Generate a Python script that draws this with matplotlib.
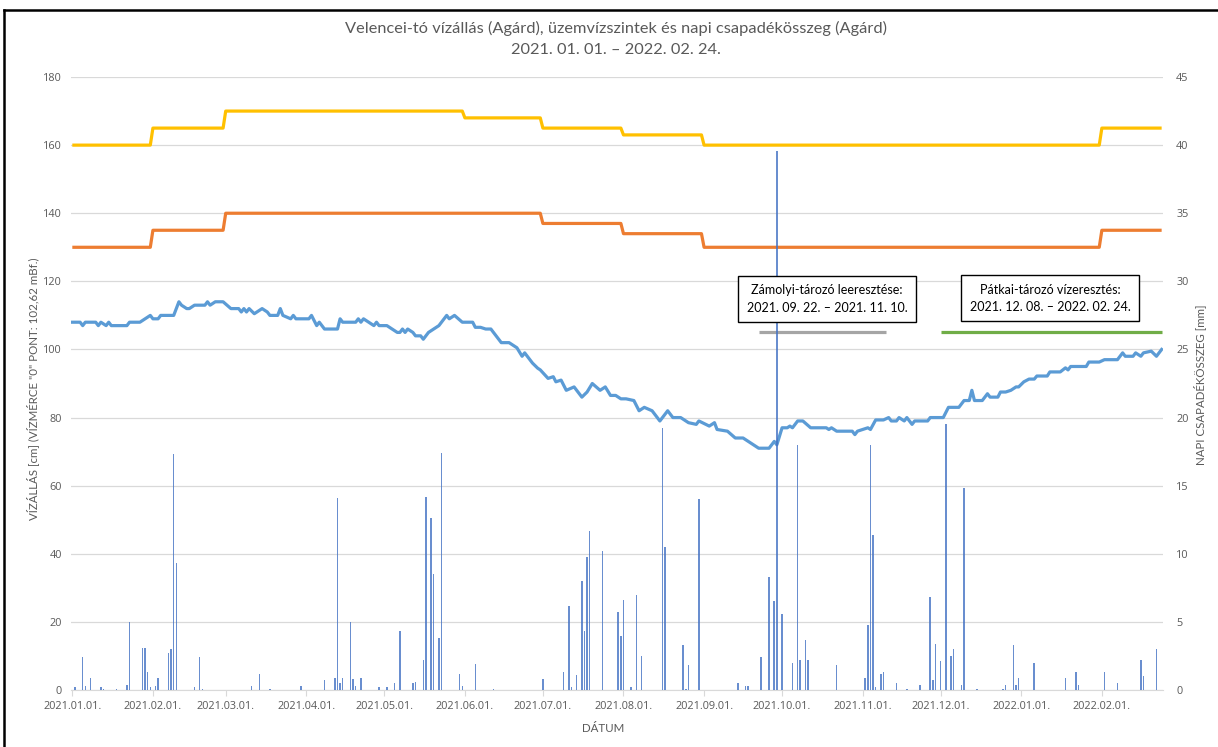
import numpy as np
import pandas as pd
import matplotlib
matplotlib.use("Agg")
import matplotlib.pyplot as plt
import matplotlib.dates as mdates
from matplotlib.lines import Line2D

plt.rcParams['font.family'] = ['Lato', 'DejaVu Sans']

kezdet = pd.Timestamp('2021-01-01')

# vízállás (Agárd), cm -- nap sorszáma 2021.01.01-től
vizallas_nap = [0, 3, 4, 5, 9, 10, 11, 13, 14, 15, 21, 22, 26, 28, 30, 31, 33, 34, 39, 41,
                42, 44, 45, 47, 51, 52, 53, 55, 58, 61, 64, 65, 66, 67, 68, 70, 71, 73, 75, 76,
                79, 80, 81, 84, 85, 86, 91, 92, 94, 95, 97, 102, 103, 104, 109, 110, 111, 112, 114, 116,
                117, 118, 121, 123, 125, 126, 127, 128, 129, 131, 132, 134, 135, 137, 139, 141,
                144, 145, 147, 150, 154, 155, 157, 159, 161, 162, 165, 168, 171, 173, 174, 177, 179, 180,
                183, 185, 186, 188, 190, 193, 196, 198, 200, 203, 205, 207, 209, 211, 213, 216, 218, 220,
                223, 226, 229, 231, 234, 237, 240, 241, 245, 247, 248, 252, 255, 258, 261, 264, 268, 270,
                271, 273, 275, 276, 277, 279,
                281, 284, 290, 291, 292, 294, 300, 301, 302, 304, 306, 307, 309, 312, 314, 315, 317, 318,
                320, 321, 323, 324, 329, 330, 335, 337, 341, 343, 345, 346, 347, 350, 352, 353, 356, 357,
                359, 361, 363, 364, 366, 368, 370, 371, 375, 376, 380, 382, 383, 384, 390, 391, 395, 397,
                402, 404, 405, 408, 409, 411, 412, 415, 417, 418, 419]
vizallas_cm = [108, 108, 107, 108, 108, 107, 108, 107, 108, 107, 107, 108, 108, 109, 110, 109, 109, 110, 110, 114,
               113, 112, 112, 113, 113, 114, 113, 114, 114, 112, 112, 111, 112, 111, 112, 110.5, 111, 112, 111, 110,
               110, 112, 110, 109, 110, 109, 109, 110, 107, 108, 106, 106, 109, 108, 108, 109, 108, 109, 108, 107,
               108, 107, 107, 106, 105, 105, 106, 105, 106, 105, 104, 104, 103, 105, 106, 107,
               110, 109, 110, 108, 108, 106.5, 106.5, 106, 106, 105, 102, 102, 100.5, 98, 99, 96, 94.5, 94,
               91.5, 92, 90.5, 91, 88, 89, 86, 87.5, 90, 88, 89, 86.5, 86.5, 85.5, 85.5, 85, 82, 83,
               82, 79, 82, 80, 80, 78.5, 78, 79, 77.5, 78.5, 76.5, 76, 74, 74, 72.5, 71, 71, 73,
               72, 77, 77, 77.5, 77, 79,
               79, 77, 77, 76.5, 77, 76, 76, 75, 76, 76.5, 77, 76.5, 79.3, 79.3, 80, 79, 79, 80,
               79, 80, 78, 79, 79, 80, 80, 83, 83, 85, 85, 88, 85, 85, 87, 86, 86, 87.5,
               87.5, 88, 89, 89, 90.5, 91.3, 91.3, 92.2, 92.2, 93.4, 93.4, 94.6, 94, 95, 95, 96.3, 96.3, 97,
               97, 99, 98, 98, 99, 98, 99, 99.5, 98, 99, 100]

# üzemvízszintek (lépcsős)
felso_datum = ['2021-01-01', '2021-01-31', '2021-02-01', '2021-02-28', '2021-03-01', '2021-05-31',
               '2021-06-01', '2021-06-30', '2021-07-01', '2021-07-31', '2021-08-01', '2021-08-31',
               '2021-09-01', '2022-01-31', '2022-02-01', '2022-02-24']
felso_cm = [160, 160, 165, 165, 170, 170, 168, 168, 165, 165, 163, 163, 160, 160, 165, 165]

also_datum = ['2021-01-01', '2021-01-31', '2021-02-01', '2021-02-28', '2021-03-01', '2021-06-30',
              '2021-07-01', '2021-07-31', '2021-08-01', '2021-08-31', '2021-09-01', '2022-01-31',
              '2022-02-01', '2022-02-24']
also_cm = [130, 130, 135, 135, 140, 140, 137, 137, 134, 134, 130, 130, 135, 135]

# tározó időszakok (szürke / zöld vonal)
zamolyi_datum = ['2021-09-22', '2021-11-10']
zamolyi_cm = [105, 105]
patkai_datum = ['2021-12-01', '2022-02-24']
patkai_cm = [105, 105]

# napi csapadék, mm
csapadek_nap = [1, 4, 5, 7, 11, 12, 17, 21, 22, 27, 28, 29, 30, 32, 33, 37, 38, 39, 40, 47,
                49, 50, 69, 72, 76, 88, 97, 101, 102, 103, 104, 107, 108, 109, 111, 118, 121, 124, 126, 131,
                132, 135, 136, 138, 139, 141, 142, 149, 150, 155, 162, 181, 189, 191, 192, 194, 196, 197, 198, 199,
                204, 210, 211, 212, 215, 217, 219, 227, 228, 235, 236, 237, 241, 256, 259, 260, 265, 268, 270, 271,
                273, 277, 279, 280, 282, 283, 294, 305, 306, 307, 308, 309, 311, 312, 317, 321, 326, 330, 331, 332,
                334, 336, 338, 339, 342, 343, 348, 358, 359, 362, 363, 364, 370, 382, 386, 387, 397, 402, 411, 412,
                417]
csapadek_mm = [0.2, 2.4, 0.3, 0.9, 0.2, 0.1, 0.1, 0.4, 5.0, 3.1, 3.1, 1.3, 0.2, 0.3, 0.9, 2.7, 3.0, 17.3, 9.3, 0.2,
               2.4, 0.1, 0.3, 1.2, 0.1, 0.3, 0.7, 0.9, 14.1, 0.5, 0.9, 5.0, 0.8, 0.3, 0.9, 0.2, 0.2, 0.5, 4.3, 0.5,
               0.6, 2.2, 14.2, 12.6, 8.5, 3.8, 17.4, 1.2, 0.3, 1.9, 0.1, 0.8, 1.3, 6.2, 0.2, 1.1, 8.0, 4.3, 9.8, 11.7,
               10.2, 5.7, 4.0, 6.6, 0.2, 7.0, 2.5, 19.2, 10.5, 3.3, 0.1, 1.8, 14.0, 0.5, 0.3, 0.3, 2.4, 8.3, 6.5, 39.6,
               5.6, 2.0, 18.0, 2.2, 3.7, 2.2, 1.8, 0.9, 4.8, 18.0, 11.4, 0.2, 1.2, 1.3, 0.5, 0.1, 0.4, 6.8, 0.7, 3.4,
               2.1, 19.5, 2.5, 3.0, 0.4, 14.8, 0.1, 0.1, 0.4, 3.3, 0.4, 0.9, 2.0, 0.9, 1.3, 0.4, 1.3, 0.5, 2.2, 1.0,
               3.0]

honap_kezdetek = pd.date_range('2021-01-01', '2022-02-01', freq='MS')

szurke = '#595959'
racs = '#D9D9D9'

viz_datum = kezdet + pd.to_timedelta(vizallas_nap, unit='D')
csap_datum = kezdet + pd.to_timedelta(csapadek_nap, unit='D')

fig = plt.figure(figsize=(12.18, 7.47), dpi=100)
ax = fig.add_axes([0.0583, 0.0763, 0.8965, 0.8206])
ax2 = ax.twinx()

ax.plot(pd.to_datetime(felso_datum), felso_cm, color='#FFC000', lw=2.3, solid_capstyle='butt')
ax.plot(pd.to_datetime(also_datum), also_cm, color='#ED7D31', lw=2.3, solid_capstyle='butt')
ax.plot(viz_datum, vizallas_cm, color='#5B9BD5', lw=2.3, solid_joinstyle='round')
ax.plot(pd.to_datetime(zamolyi_datum), zamolyi_cm, color='#A5A5A5', lw=2.3, solid_capstyle='butt')
ax.plot(pd.to_datetime(patkai_datum), patkai_cm, color='#70AD47', lw=2.3, solid_capstyle='butt')

ax2.bar(csap_datum, csapadek_mm, width=0.6, color='#4472C4', alpha=0.8, linewidth=0)

x0 = kezdet - pd.Timedelta(hours=12)
x1 = pd.Timestamp('2022-02-24') + pd.Timedelta(hours=12)
ax.set_xlim(x0, x1)
ax.set_ylim(0, 180)
ax2.set_ylim(0, 45)
ax.set_yticks(np.arange(0, 181, 20))
ax2.set_yticks(np.arange(0, 46, 5))

ax.set_xticks(honap_kezdetek)
ax.xaxis.set_major_formatter(mdates.DateFormatter('%Y.%m.%d.'))

for a in (ax, ax2):
    for s in a.spines.values():
        s.set_visible(False)
    for lab in a.get_yticklabels():
        lab.set_fontfamily('Open Sans')
ax.tick_params(axis='y', length=0, labelcolor=szurke, labelsize=7.8, pad=6.5)
ax2.tick_params(axis='y', length=0, labelcolor=szurke, labelsize=7.8, pad=9.5)
ax.spines['bottom'].set_visible(True)
ax.spines['bottom'].set_color(racs)
ax.tick_params(axis='x', length=4, color=racs, labelcolor=szurke, labelsize=7.8, pad=4)
for lab in ax.get_xticklabels():
    lab.set_fontfamily('Open Sans')
ax.yaxis.grid(True, color=racs, lw=0.9)
ax.set_axisbelow(True)

fig.text(0.506, 0.962, 'Velencei-tó vízállás (Agárd), üzemvízszintek és napi csapadékösszeg (Agárd)',
         ha='center', va='center', fontsize=11.8, color=szurke)
fig.text(0.506, 0.933, '2021. 01. 01. – 2022. 02. 24.',
         ha='center', va='center', fontsize=11.8, color=szurke)

fig.text(0.027, 0.48, 'VÍZÁLLÁS [cm] (VÍZMÉRCE "0" PONT: 102,62 mBf.)', rotation=90,
         ha='center', va='center', fontsize=8.3, color=szurke)
fig.text(0.985, 0.485, 'NAPI CSAPADÉKÖSSZEG [mm]', rotation=90,
         ha='center', va='center', fontsize=8.3, color=szurke)
fig.text(0.495, 0.025, 'DÁTUM', ha='center', va='center', fontsize=8.3, color=szurke)

doboz = dict(boxstyle='square,pad=0.7', facecolor='white', edgecolor='black', lw=1.0)
fig.text(827 / 1218, 1 - 299 / 747, 'Zámolyi-tározó leeresztése:\n2021. 09. 22. – 2021. 11. 10.',
         ha='center', va='center', fontsize=9, color='black', bbox=doboz, linespacing=1.5)
fig.text(1050 / 1218, 1 - 298 / 747, 'Pátkai-tározó vízeresztés:\n2021. 12. 08. – 2022. 02. 24.',
         ha='center', va='center', fontsize=9, color='black', bbox=doboz, linespacing=1.5)

# keret
fig.add_artist(Line2D([0.003, 1.0], [0.987, 0.987], color='black', lw=1.8, transform=fig.transFigure))
fig.add_artist(Line2D([0.003, 0.003], [0.0, 0.987], color='black', lw=1.8, transform=fig.transFigure))

fig.savefig('out.png', dpi=100)
